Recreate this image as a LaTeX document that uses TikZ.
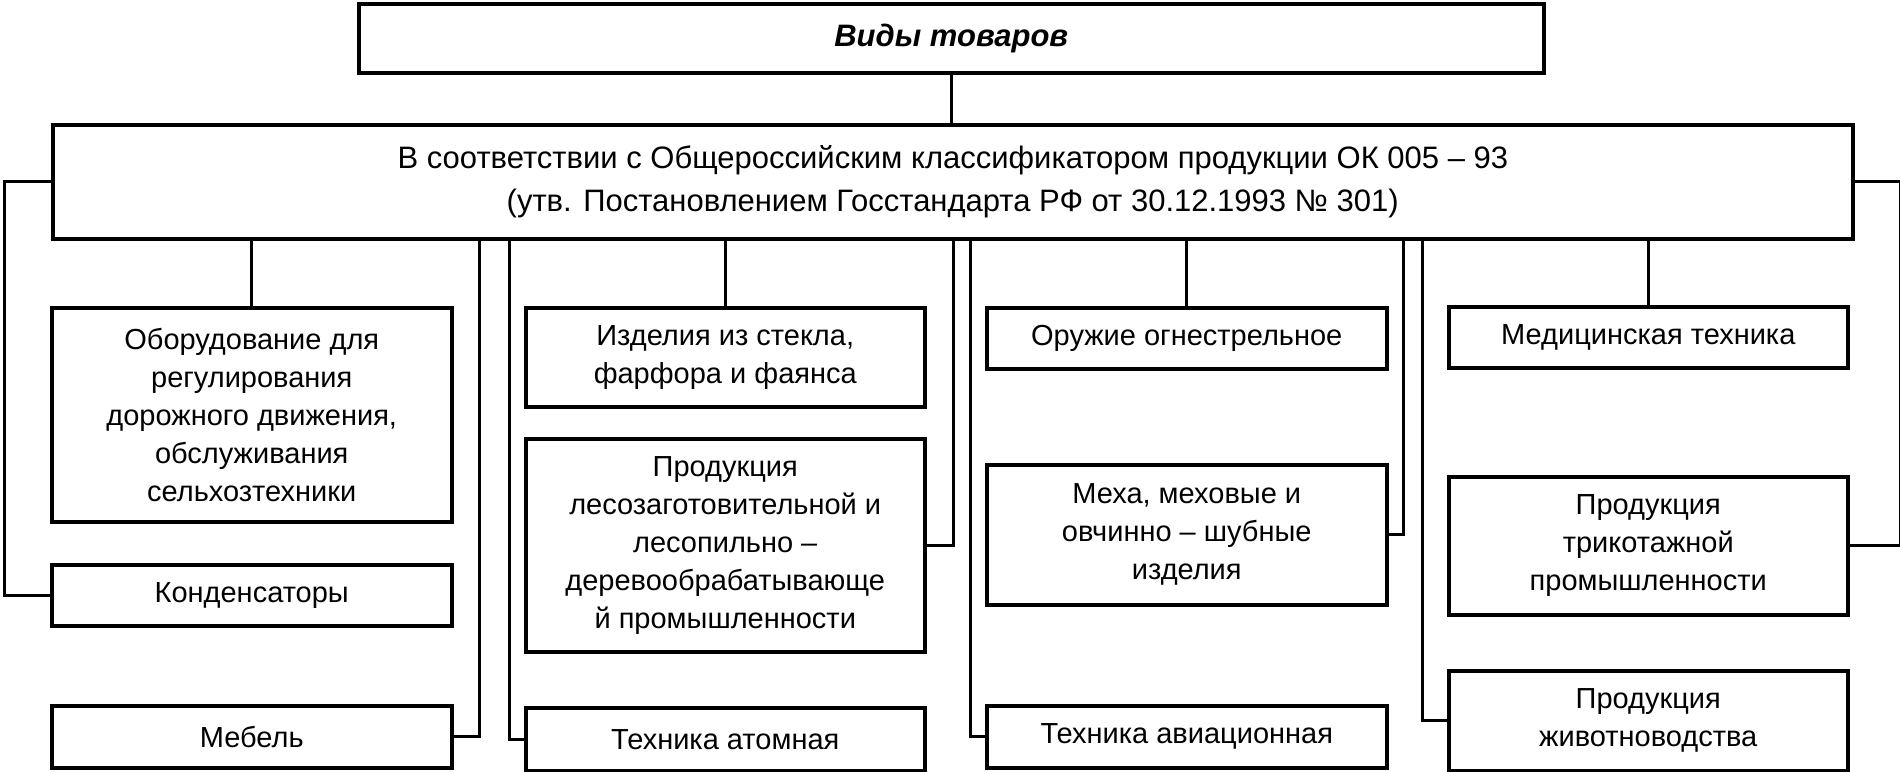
\documentclass[tikz,border=0pt]{standalone}
\usepackage{fontspec}
\setmainfont{Liberation Sans}
\begin{document}
\begin{tikzpicture}[x=1pt,y=-1pt,
  box/.style={draw, line width=3.5pt, inner sep=0pt, align=center, anchor=north west,
    font=\fontsize{29}{38}\selectfont},
  conn/.style={line width=3pt}]
\useasboundingbox (0,0) rectangle (1900,771);
\node[box, minimum width=1185pt, minimum height=69pt, font=\fontsize{31}{38}\selectfont\bfseries\itshape] (top) at (357,2) {Виды товаров};
\node[box, minimum width=1800pt, minimum height=114pt, font=\fontsize{31}{43}\selectfont] (main) at (51,123) {В соответствии с Общероссийским классификатором продукции ОК 005 – 93\\(утв. Постановлением Госстандарта РФ от 30.12.1993 № 301)};
\node[box, minimum width=400pt, minimum height=214pt] (obor) at (50,306) {Оборудование для\\регулирования\\дорожного движения,\\обслуживания\\сельхозтехники};
\node[box, minimum width=400pt, minimum height=61pt] (kond) at (50,563) {Конденсаторы};
\node[box, minimum width=400pt, minimum height=62pt] (mebel) at (50,704) {Мебель};
\node[box, minimum width=399pt, minimum height=99pt] (izd) at (524,306) {Изделия из стекла,\\фарфора и фаянса};
\node[box, minimum width=399pt, minimum height=213pt] (les) at (524,437) {Продукция\\лесозаготовительной и\\лесопильно –\\деревообрабатывающе\\й промышленности};
\node[box, minimum width=399pt, minimum height=63pt] (atom) at (524,706) {Техника атомная};
\node[box, minimum width=400pt, minimum height=61pt] (oruz) at (985,306) {Оружие огнестрельное};
\node[box, minimum width=400pt, minimum height=140pt] (meha) at (985,463) {Меха, меховые и\\овчинно – шубные\\изделия};
\node[box, minimum width=400pt, minimum height=62pt] (avia) at (985,704) {Техника авиационная};
\node[box, minimum width=399pt, minimum height=61pt] (med) at (1447,305) {Медицинская техника};
\node[box, minimum width=399pt, minimum height=138pt] (trik) at (1447,475) {Продукция\\трикотажной\\промышленности};
\node[box, minimum width=399pt, minimum height=100pt] (zhiv) at (1447,669) {Продукция\\животноводства};
\draw[conn] (top.south) -- (top.south |- main.north);
\foreach \n in {obor,izd,oruz,med}{\draw[conn] (\n.north) -- (\n.north |- main.south);}
\draw[conn] (main.west) -| ([xshift=-46pt]kond.west) -- (kond.west);
\draw[conn] (main.east) -| ([xshift=51pt]trik.east) -- (trik.east);
\draw[conn] (mebel.east) -- ([xshift=26pt]mebel.east) -- ([xshift=26pt]mebel.east |- main.south);
\draw[conn] (atom.west) -- ([xshift=-15pt]atom.west) -- ([xshift=-15pt]atom.west |- main.south);
\draw[conn] (les.east) -- ([xshift=27pt]les.east) -- ([xshift=27pt]les.east |- main.south);
\draw[conn] (avia.west) -- ([xshift=-15pt]avia.west) -- ([xshift=-15pt]avia.west |- main.south);
\draw[conn] (meha.east) -- ([xshift=15pt]meha.east) -- ([xshift=15pt]meha.east |- main.south);
\draw[conn] (zhiv.west) -- ([xshift=-25pt]zhiv.west) -- ([xshift=-25pt]zhiv.west |- main.south);
\end{tikzpicture}
\end{document}
